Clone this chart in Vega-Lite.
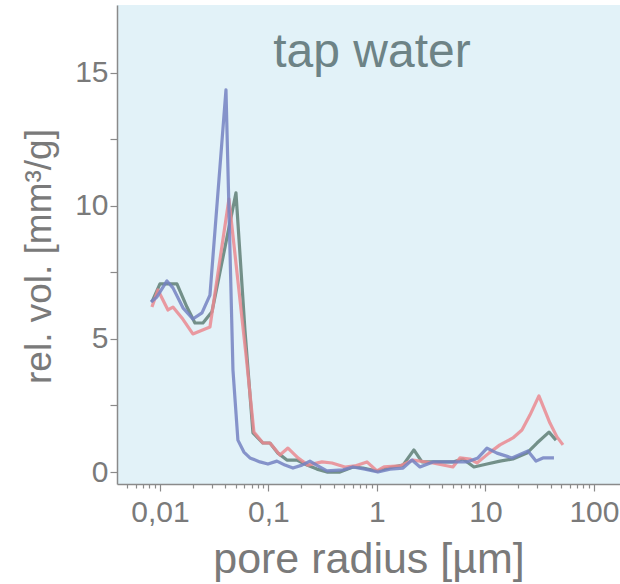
{
  "$schema": "https://vega.github.io/schema/vega-lite/v6.json",
  "autosize": {"type": "none"},
  "padding": {"left": 117, "top": 5, "right": 0, "bottom": 100},
  "width": 503,
  "height": 479,
  "background": "white",
  "config": {
    "view": {"fill": "#e2f2f8", "stroke": null},
    "font": "Liberation Sans",
    "axis": {"grid": false, "domainColor": "#8a8a8a", "domainWidth": 1.5, "tickColor": "#8a8a8a", "tickWidth": 1.2, "labelColor": "#7a7a7a", "titleColor": "#7a7a7a", "labelFont": "Liberation Sans", "titleFont": "Liberation Sans", "titleFontWeight": "normal"}
  },
  "datasets": {
    "curves": [
      {"s": "green", "r": 0.00844, "v": 6.39},
      {"s": "green", "r": 0.01, "v": 7.07},
      {"s": "green", "r": 0.01185, "v": 7.07},
      {"s": "green", "r": 0.01434, "v": 7.07},
      {"s": "green", "r": 0.01774, "v": 6.2},
      {"s": "green", "r": 0.02102, "v": 5.6},
      {"s": "green", "r": 0.0249, "v": 5.6},
      {"s": "green", "r": 0.03015, "v": 6.02},
      {"s": "green", "r": 0.0502, "v": 10.49},
      {"s": "green", "r": 0.0607, "v": 5.34},
      {"s": "green", "r": 0.072, "v": 1.47},
      {"s": "green", "r": 0.089, "v": 1.09},
      {"s": "green", "r": 0.1032, "v": 1.09},
      {"s": "green", "r": 0.1224, "v": 0.71},
      {"s": "green", "r": 0.148, "v": 0.45},
      {"s": "green", "r": 0.1831, "v": 0.45},
      {"s": "green", "r": 0.2264, "v": 0.26},
      {"s": "green", "r": 0.28, "v": 0.11},
      {"s": "green", "r": 0.346, "v": 0.0},
      {"s": "green", "r": 0.456, "v": 0.0},
      {"s": "green", "r": 0.601, "v": 0.19},
      {"s": "green", "r": 0.743, "v": 0.15},
      {"s": "green", "r": 1.0, "v": 0.04},
      {"s": "green", "r": 1.403, "v": 0.19},
      {"s": "green", "r": 1.738, "v": 0.26},
      {"s": "green", "r": 2.19, "v": 0.83},
      {"s": "green", "r": 2.6, "v": 0.38},
      {"s": "green", "r": 3.28, "v": 0.38},
      {"s": "green", "r": 5.01, "v": 0.38},
      {"s": "green", "r": 6.21, "v": 0.49},
      {"s": "green", "r": 7.83, "v": 0.19},
      {"s": "green", "r": 10.33, "v": 0.3},
      {"s": "green", "r": 13.6, "v": 0.41},
      {"s": "green", "r": 17.9, "v": 0.49},
      {"s": "green", "r": 24.1, "v": 0.71},
      {"s": "green", "r": 29.85, "v": 1.09},
      {"s": "green", "r": 38.5, "v": 1.5},
      {"s": "green", "r": 44.7, "v": 1.2},
      {"s": "red", "r": 0.00844, "v": 6.2},
      {"s": "red", "r": 0.00958, "v": 6.84},
      {"s": "red", "r": 0.01185, "v": 6.09},
      {"s": "red", "r": 0.01318, "v": 6.2},
      {"s": "red", "r": 0.01595, "v": 5.79},
      {"s": "red", "r": 0.0201, "v": 5.19},
      {"s": "red", "r": 0.0289, "v": 5.45},
      {"s": "red", "r": 0.04325, "v": 10.26},
      {"s": "red", "r": 0.0621, "v": 4.4},
      {"s": "red", "r": 0.0735, "v": 1.5},
      {"s": "red", "r": 0.089, "v": 1.09},
      {"s": "red", "r": 0.1032, "v": 1.09},
      {"s": "red", "r": 0.1276, "v": 0.64},
      {"s": "red", "r": 0.1513, "v": 0.9},
      {"s": "red", "r": 0.187, "v": 0.53},
      {"s": "red", "r": 0.231, "v": 0.26},
      {"s": "red", "r": 0.311, "v": 0.38},
      {"s": "red", "r": 0.385, "v": 0.34},
      {"s": "red", "r": 0.507, "v": 0.19},
      {"s": "red", "r": 0.627, "v": 0.23},
      {"s": "red", "r": 0.809, "v": 0.38},
      {"s": "red", "r": 1.0, "v": 0.04},
      {"s": "red", "r": 1.161, "v": 0.19},
      {"s": "red", "r": 1.63, "v": 0.23},
      {"s": "red", "r": 2.15, "v": 0.45},
      {"s": "red", "r": 3.28, "v": 0.34},
      {"s": "red", "r": 5.01, "v": 0.19},
      {"s": "red", "r": 5.82, "v": 0.53},
      {"s": "red", "r": 7.19, "v": 0.49},
      {"s": "red", "r": 8.35, "v": 0.34},
      {"s": "red", "r": 10.77, "v": 0.71},
      {"s": "red", "r": 13.6, "v": 1.02},
      {"s": "red", "r": 17.9, "v": 1.28},
      {"s": "red", "r": 21.7, "v": 1.58},
      {"s": "red", "r": 25.7, "v": 2.14},
      {"s": "red", "r": 31.1, "v": 2.86},
      {"s": "red", "r": 39.3, "v": 1.84},
      {"s": "red", "r": 45.6, "v": 1.32},
      {"s": "red", "r": 51.8, "v": 1.02},
      {"s": "blue", "r": 0.00826, "v": 6.39},
      {"s": "blue", "r": 0.00938, "v": 6.58},
      {"s": "blue", "r": 0.0116, "v": 7.18},
      {"s": "blue", "r": 0.01318, "v": 6.92},
      {"s": "blue", "r": 0.0163, "v": 6.17},
      {"s": "blue", "r": 0.0201, "v": 5.75},
      {"s": "blue", "r": 0.0244, "v": 5.98},
      {"s": "blue", "r": 0.0289, "v": 6.65},
      {"s": "blue", "r": 0.0406, "v": 14.36},
      {"s": "blue", "r": 0.0471, "v": 3.83},
      {"s": "blue", "r": 0.0523, "v": 1.2},
      {"s": "blue", "r": 0.0594, "v": 0.75},
      {"s": "blue", "r": 0.0675, "v": 0.53},
      {"s": "blue", "r": 0.0835, "v": 0.38},
      {"s": "blue", "r": 0.0989, "v": 0.3},
      {"s": "blue", "r": 0.1197, "v": 0.41},
      {"s": "blue", "r": 0.1419, "v": 0.26},
      {"s": "blue", "r": 0.1682, "v": 0.15},
      {"s": "blue", "r": 0.2036, "v": 0.26},
      {"s": "blue", "r": 0.241, "v": 0.41},
      {"s": "blue", "r": 0.2858, "v": 0.23},
      {"s": "blue", "r": 0.346, "v": 0.04},
      {"s": "blue", "r": 0.486, "v": 0.08},
      {"s": "blue", "r": 0.601, "v": 0.19},
      {"s": "blue", "r": 0.775, "v": 0.11},
      {"s": "blue", "r": 1.021, "v": 0.0},
      {"s": "blue", "r": 1.318, "v": 0.11},
      {"s": "blue", "r": 1.738, "v": 0.15},
      {"s": "blue", "r": 2.104, "v": 0.45},
      {"s": "blue", "r": 2.49, "v": 0.19},
      {"s": "blue", "r": 3.28, "v": 0.38},
      {"s": "blue", "r": 4.71, "v": 0.38},
      {"s": "blue", "r": 6.75, "v": 0.38},
      {"s": "blue", "r": 8.53, "v": 0.53},
      {"s": "blue", "r": 10.33, "v": 0.9},
      {"s": "blue", "r": 12.77, "v": 0.71},
      {"s": "blue", "r": 17.55, "v": 0.53},
      {"s": "blue", "r": 24.65, "v": 0.79},
      {"s": "blue", "r": 29.2, "v": 0.41},
      {"s": "blue", "r": 33.9, "v": 0.53},
      {"s": "blue", "r": 42.8, "v": 0.53}
    ],
    "label": [{"r": 0.9, "v": 15.23, "t": "tap water"}]
  },
  "resolve": {"axis": {"x": "independent", "y": "independent"}},
  "layer": [
    {
      "data": {"name": "curves"},
      "mark": {"type": "line", "strokeWidth": 3.2, "opacity": 0.85, "strokeJoin": "round"},
      "encoding": {
        "x": {
          "field": "r", "type": "quantitative",
          "scale": {"type": "log", "domain": [0.00402, 173.8], "nice": false},
          "axis": {"orient": "bottom", "values": [0.01, 0.1, 1, 10, 100], "tickSize": 7, "labelFontSize": 30, "labelPadding": 6, "labelExpr": "replace(format(datum.value, ''), '.', ',')", "title": "pore radius [µm]", "titleFontSize": 43, "titlePadding": 11}
        },
        "y": {
          "field": "v", "type": "quantitative",
          "scale": {"domain": [-0.45, 17.55], "nice": false, "zero": false},
          "axis": {"orient": "left", "values": [0, 2.5, 5, 7.5, 10, 12.5, 15], "tickSize": 7, "labelFontSize": 30, "labelPadding": 2, "labelExpr": "datum.value % 5 == 0 ? datum.label : ''", "title": "rel. vol. [mm³/g]", "titleFontSize": 37, "titlePadding": 16, "titleY": 251, "titleAlign": "center"}
        },
        "color": {
          "field": "s", "type": "nominal",
          "scale": {"domain": ["green", "red", "blue"], "range": ["#5f7f76", "#ea8a90", "#7482c2"]},
          "legend": null
        },
        "order": {"field": "r", "type": "quantitative"}
      }
    },
    {
      "data": {"name": "label"},
      "mark": {"type": "text", "fontSize": 48, "font": "Liberation Sans", "color": "#6d8386", "align": "center", "baseline": "alphabetic"},
      "encoding": {
        "x": {
          "field": "r", "type": "quantitative",
          "axis": {"orient": "bottom", "values": [0.005, 0.006, 0.007, 0.008, 0.009, 0.02, 0.03, 0.04, 0.05, 0.06, 0.07, 0.08, 0.09, 0.2, 0.3, 0.4, 0.5, 0.6, 0.7, 0.8, 0.9, 2, 3, 4, 5, 6, 7, 8, 9, 20, 30, 40, 50, 60, 70, 80, 90], "tickSize": 4, "labels": false, "domain": false, "title": null}
        },
        "y": {"field": "v", "type": "quantitative", "axis": null},
        "text": {"field": "t"}
      }
    }
  ]
}
